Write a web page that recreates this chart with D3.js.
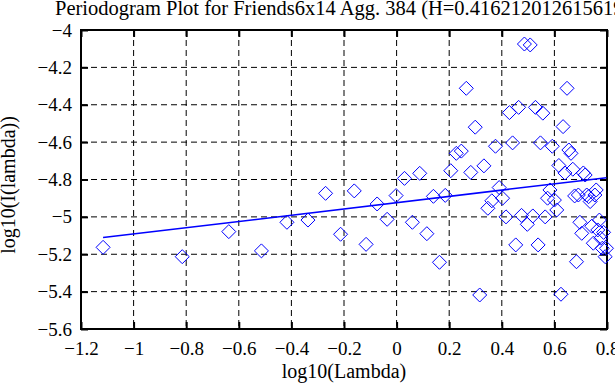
<!DOCTYPE html>
<html>
<head>
<meta charset="utf-8">
<script src="https://cdn.jsdelivr.net/npm/d3@7.9.0/dist/d3.min.js"></script>
<style>
  html, body { margin: 0; padding: 0; background: #fff; }
  svg text { font-family: "Liberation Serif", "DejaVu Serif", serif; fill: #000; }
</style>
</head>
<body>
<svg id="chart" width="615" height="385"></svg>
<script>
// log10(Lambda) for each periodogram point
const logLambda = [
  -1.116, -0.815, -0.638, -0.514, -0.417, -0.337, -0.270, -0.213, -0.161, -0.116,
  -0.074, -0.036, -0.002, 0.030, 0.060, 0.088, 0.115, 0.140, 0.163, 0.185,
  0.206, 0.227, 0.246, 0.265, 0.282, 0.299, 0.316, 0.332, 0.347, 0.362,
  0.376, 0.390, 0.403, 0.416, 0.429, 0.441, 0.453, 0.464, 0.475, 0.486,
  0.497, 0.508, 0.518, 0.528, 0.538, 0.547, 0.556, 0.565, 0.574, 0.583,
  0.592, 0.600, 0.609, 0.617, 0.625, 0.633, 0.640, 0.648, 0.655, 0.663,
  0.670, 0.677, 0.684, 0.691, 0.697, 0.704, 0.710, 0.717, 0.723, 0.730,
  0.736, 0.742, 0.748, 0.754, 0.759, 0.765, 0.771, 0.776, 0.782, 0.787,
  0.793, 0.798
];
// log10(I(lambda))
const logI = [
  -5.163, -5.213, -5.079, -5.182, -5.029, -5.017, -4.874, -5.093, -4.861, -5.147,
  -4.931, -5.013, -4.886, -4.794, -5.029, -4.767, -5.090, -4.890, -5.243, -4.885,
  -4.753, -4.660, -4.648, -4.312, -4.762, -4.520, -5.418, -4.727, -4.954, -4.914,
  -4.622, -4.843, -4.900, -5.000, -4.442, -4.604, -5.150, -4.414, -4.992, -4.075,
  -5.040, -4.080, -4.995, -4.414, -5.150, -4.604, -4.445, -5.000, -4.900, -4.856,
  -4.622, -4.910, -4.963, -4.725, -5.414, -4.517, -4.765, -4.312, -4.642, -4.660,
  -4.745, -4.888, -5.240, -4.883, -5.029, -5.088, -4.765, -4.776, -4.883, -4.892,
  -4.918, -5.050, -5.141, -4.883, -4.856, -5.070, -5.017, -5.114, -5.168, -5.083,
  -5.213, -5.168
];
// fitted line end points (slope = 1 - 2H)
const fitX = [-1.116, 0.798];
const fitY = [-5.111, -4.790];

const xTicks = [-1.2, -1, -0.8, -0.6, -0.4, -0.2, 0, 0.2, 0.4, 0.6, 0.8];
const xTickLabels = ["−1.2", "−1", "−0.8", "−0.6", "−0.4", "−0.2", "0", "0.2", "0.4", "0.6", "0.8"];
const yTicks = [-5.6, -5.4, -5.2, -5, -4.8, -4.6, -4.4, -4.2, -4];
const yTickLabels = ["−5.6", "−5.4", "−5.2", "−5", "−4.8", "−4.6", "−4.4", "−4.2", "−4"];

const title = "Periodogram Plot for Friends6x14 Agg. 384 (H=0.416212012615619)";

const svg = d3.select("#chart");
const pl = 81, pr = 607, pt = 30, pb = 329;

const x = d3.scaleLinear().domain([-1.2, 0.8]).range([pl, pr]);
const y = d3.scaleLinear().domain([-5.6, -4]).range([pb, pt]);

// dashed grid
const grid = svg.append("g").attr("stroke", "#000").attr("stroke-width", 1)
  .attr("stroke-dasharray", "6,4").attr("fill", "none");
xTicks.slice(1, -1).forEach(t => {
  grid.append("line").attr("x1", x(t)).attr("x2", x(t)).attr("y1", pt).attr("y2", pb);
});
yTicks.slice(1, -1).forEach(t => {
  grid.append("line").attr("x1", pl).attr("x2", pr).attr("y1", y(t)).attr("y2", y(t));
});

// axes with inward ticks, mirrored
const fs = 19;
const ax = (g) => g.call(s => s.select(".domain").remove())
  .call(s => s.selectAll(".tick line").attr("stroke", "#000").attr("stroke-width", 2));

svg.append("g").attr("transform", `translate(0,${pb})`)
  .call(d3.axisBottom(x).tickValues(xTicks).tickSize(-7).tickPadding(13)
    .tickFormat((d, i) => xTickLabels[i]))
  .call(ax)
  .selectAll("text").style("font-size", fs + "px");

svg.append("g").attr("transform", `translate(0,${pt})`)
  .call(d3.axisTop(x).tickValues(xTicks).tickSize(-7).tickFormat(""))
  .call(ax);

svg.append("g").attr("transform", `translate(${pl},0)`)
  .call(d3.axisLeft(y).tickValues(yTicks).tickSize(-7).tickPadding(9)
    .tickFormat((d, i) => yTickLabels[i]))
  .call(ax)
  .selectAll("text").style("font-size", fs + "px");

svg.append("g").attr("transform", `translate(${pr},0)`)
  .call(d3.axisRight(y).tickValues(yTicks).tickSize(-7).tickFormat(""))
  .call(ax);

// border
svg.append("rect").attr("x", pl).attr("y", pt)
  .attr("width", pr - pl).attr("height", pb - pt)
  .attr("fill", "none").attr("stroke", "#000").attr("stroke-width", 2);

// fitted line
const line = d3.line().x(d => x(d[0])).y(d => y(d[1]));
svg.append("path").datum(d3.zip(fitX, fitY))
  .attr("d", line).attr("fill", "none").attr("stroke", "#0000ff").attr("stroke-width", 1.5);

// diamonds
const r = 7;
svg.append("g").selectAll("path").data(d3.zip(logLambda, logI)).join("path")
  .attr("transform", d => `translate(${x(d[0])},${y(d[1])})`)
  .attr("d", `M0,${-r}L${r},0L0,${r}L${-r},0Z`)
  .attr("fill", "none").attr("stroke", "#0000ff").attr("stroke-width", 1);

// titles
svg.append("text").attr("x", 55).attr("y", 15).style("font-size", "20.5px").text(title);
svg.append("text").attr("x", (pl + pr) / 2).attr("y", 378)
  .attr("text-anchor", "middle").style("font-size", "20px").text("log10(Lambda)");
svg.append("text").attr("transform", `translate(15,185) rotate(-90)`)
  .attr("text-anchor", "middle").style("font-size", "20px").text("log10(I(lambda))");
</script>
</body>
</html>
